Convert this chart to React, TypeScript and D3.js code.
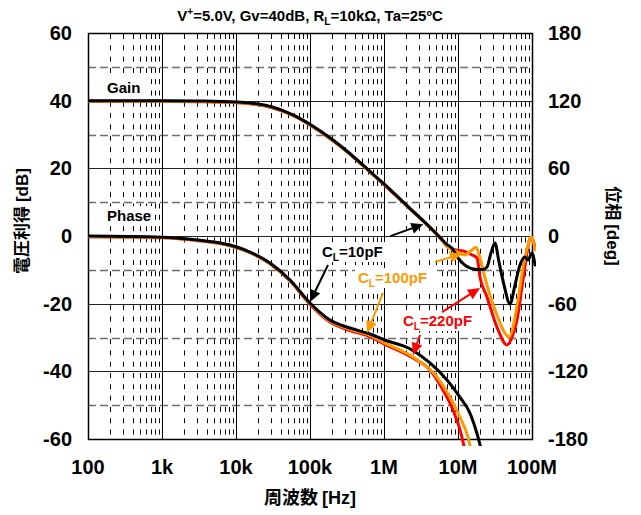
import React from "react";
import * as d3 from "d3";

const W = 641;
const H = 515;
const PLOT = { left: 88, right: 532, top: 33, bottom: 439 };

const freqTicks = [1e2, 1e3, 1e4, 1e5, 1e6, 1e7, 1e8];
const freqTickLabels = ["100", "1k", "10k", "100k", "1M", "10M", "100M"];
const gainTicks = [60, 40, 20, 0, -20, -40, -60];
const gainTickLabels = ["60", "40", "20", "0", "-20", "-40", "-60"];
const gainMinorLines = [50, 30, 10, -10, -30, -50];
const phaseTicks = [180, 120, 60, 0, -60, -120, -180];
const phaseTickLabels = ["180", "120", "60", "0", "-60", "-120", "-180"];

// Gain [dB] vs frequency [Hz]
const gainFreq10p = [
  100, 1e3, 3e3, 1e4, 2e4, 3e4, 5e4, 7e4, 1e5, 2e5, 3e5, 5e5, 7e5, 1e6, 2e6, 3e6, 4e6, 5e6, 6e6, 7e6,
  8.3e6, 1.0e7, 1.24e7, 1.7e7, 2.18e7, 2.46e7, 2.79e7, 3.16e7, 3.58e7, 4.19e7, 5.04e7, 5.89e7, 6.88e7,
  8.04e7, 8.82e7, 1.0e8, 1.1e8,
];
const gain10p = [
  40, 40, 39.9, 39.6, 39.0, 38.2, 36.5, 35, 33, 28.5, 25.5, 21.3, 18.4, 15.4, 9.2, 5.6, 3.0, 0.9, -0.9, -2.4,
  -3.6, -6.5, -8.6, -9.8, -9.9, -9.2, -5.0, -2.1, -7.7, -14.5, -20.1, -14.5, -8.6,
  -6.2, -7.1, -5.0, -8.6,
];

const gainFreq100p = [
  100, 1e3, 3e3, 1e4, 2e4, 3e4, 5e4, 7e4, 1e5, 2e5, 3e5, 5e5, 7e5, 1e6, 2e6, 3e6, 4e6, 5e6, 6e6, 7.1e6,
  9.7e6, 1.24e7, 1.55e7, 1.75e7, 1.98e7, 2.46e7, 3.36e7, 4.31e7, 4.89e7, 5.54e7, 6.47e7, 7.8e7, 8.82e7,
  9.68e7, 1.03e8, 1.1e8,
];
const gain100p = [
  39.85, 39.85, 39.75, 39.45, 38.85, 38.05, 36.35, 34.85, 32.85, 28.35, 25.35, 21.15, 18.3, 15.3, 9.1, 5.6, 3.0, 0.9, -0.9, -3.1,
  -4.7, -5.6, -4.1, -3.3, -6.5, -14.5, -23.4, -28.7, -29.9, -26.9, -18.9, -7.7, -2.7,
  -0.3, -1.2, -4.1,
];

const gainFreq220p = [
  100, 1e3, 3e3, 1e4, 2e4, 3e4, 5e4, 7e4, 1e5, 2e5, 3e5, 5e5, 7e5, 1e6, 2e6, 3e6, 4e6, 5e6, 6e6, 7.1e6,
  9.1e6, 1.17e7, 1.55e7, 1.81e7, 1.98e7, 2.46e7, 3.36e7, 4.59e7, 5.37e7, 6.27e7, 7.55e7, 8.82e7, 9.4e7,
  1.03e8, 1.1e8,
];
const gain220p = [
  39.8, 39.8, 39.7, 39.4, 38.8, 38.0, 36.3, 34.8, 32.8, 28.3, 25.3, 21.1, 18.2, 15.2, 9.0, 5.5, 2.9, 0.8, -1.1, -3.0,
  -4.1, -4.4, -5.6, -6.5, -12.1, -18.0, -26.9, -32.2, -29.9, -24.8, -13.0, -3.3, -0.6,
  -1.2, -3.5,
];

// Phase [deg] vs frequency [Hz]
const phaseFreq10p = [
  100, 1e3, 3e3, 8.3e3, 1.55e4, 2.88e4, 5.37e4, 1e5, 1.86e5, 3.47e5, 6.47e5, 1.0e6, 2.24e6, 4.18e6,
  7.1e6, 1.06e7, 1.45e7, 1.86e7, 2.0e7,
];
const phase10p = [
  0, -1, -3.5, -8, -14.2, -24, -39, -59.4, -74.5, -81.6, -86.9, -92, -100, -112.6,
  -127.7, -142.8, -157, -178.2, -186,
];

const phaseFreq100p = [
  100, 1e3, 3e3, 8.3e3, 1.55e4, 2.88e4, 5.37e4, 1e5, 1.86e5, 3.47e5, 6.47e5, 1.0e6, 2.47e6, 5.2e6,
  7.8e6, 1.06e7, 1.36e7, 1.45e7,
];
const phase100p = [
  -0.4, -1.4, -3.9, -8.4, -14.6, -24.4, -39.4, -60.0, -75.4, -82.8, -88.1, -94.5, -107.3, -125,
  -142.8, -160.5, -178.2, -186,
];

const phaseFreq220p = [
  100, 1e3, 3e3, 8.3e3, 1.55e4, 2.88e4, 5.37e4, 1e5, 1.86e5, 3.47e5, 6.47e5, 1.0e6, 2.47e6, 4.18e6,
  6.27e6, 8.55e6, 1.13e7, 1.2e7,
];
const phase220p = [
  -0.6, -1.6, -4.1, -8.6, -14.8, -24.7, -39.8, -60.6, -76.3, -83.8, -89.2, -95.6, -108.2, -118.8,
  -136.6, -154.3, -178.2, -186,
];

const COLORS = { c10: "#000000", c100: "#FF9900", c220: "#FF0000" };
const FONT = "'Liberation Sans', Arial, Helvetica, sans-serif";
const CJK = "'Noto Sans CJK JP', 'Noto Sans CJK SC', sans-serif";

const x = d3.scaleLog().domain([1e2, 1e8]).range([PLOT.left, PLOT.right]);
const yGain = d3.scaleLinear().domain([-60, 60]).range([PLOT.bottom, PLOT.top]);
const yPhase = d3.scaleLinear().domain([-180, 180]).range([PLOT.bottom, PLOT.top]);

function pathFor(freqs: number[], vals: number[], y: d3.ScaleLinear<number, number>) {
  const pts: [number, number][] = freqs.map((f, i) => [x(f), y(vals[i])]);
  return d3.line().curve(d3.curveMonotoneX)(pts) || "";
}

type Callout = {
  color: string;
  axis: "gain" | "phase";
  f: number;
  v: number;
  dx: number;
  dy: number;
};

// Callout arrows: tip sits on the trace, tail is offset in pixels
const callouts: Callout[] = [
  { color: COLORS.c10, axis: "gain", f: 3.4e6, v: 3.5, dx: -33, dy: 12 },
  { color: COLORS.c10, axis: "phase", f: 1e5, v: -58.5, dx: 18, dy: -37 },
  { color: COLORS.c100, axis: "gain", f: 1.13e7, v: -5.3, dx: -27, dy: 8 },
  { color: COLORS.c100, axis: "phase", f: 5.9e5, v: -86, dx: 16, dy: -40 },
  { color: COLORS.c220, axis: "gain", f: 1.98e7, v: -15.4, dx: -38, dy: 24 },
  { color: COLORS.c220, axis: "phase", f: 2.47e6, v: -105.5, dx: 7, dy: -20 },
];

// Text labels inside the plot, with white boxes that mask the grid
const plotLabels = [
  { key: "gain", x0: 107, y0: 93, w: 37, color: "#000", text: "Gain", sub: false },
  { key: "phase", x0: 107, y0: 221, w: 45, color: "#000", text: "Phase", sub: false },
  { key: "c10", x0: 322, y0: 257, w: 67, color: COLORS.c10, text: "10pF", sub: true },
  { key: "c100", x0: 358, y0: 283, w: 76, color: COLORS.c100, text: "100pF", sub: true },
  { key: "c220", x0: 403, y0: 326, w: 76, color: COLORS.c220, text: "220pF", sub: true },
];

function Arrow({ c }: { c: Callout }) {
  const tx = x(c.f);
  const ty = c.axis === "gain" ? yGain(c.v) : yPhase(c.v);
  const sx = tx + c.dx;
  const sy = ty + c.dy;
  const len = Math.hypot(tx - sx, ty - sy);
  const ux = (tx - sx) / len;
  const uy = (ty - sy) / len;
  const headL = 12;
  const headW = 5.5;
  const bx = tx - ux * headL;
  const by = ty - uy * headL;
  const px = -uy;
  const py = ux;
  const head = `M${tx},${ty} L${bx + px * headW},${by + py * headW} L${bx - px * headW},${by - py * headW} Z`;
  return (
    <g>
      <line x1={sx} y1={sy} x2={bx + ux * 2} y2={by + uy * 2} stroke={c.color} strokeWidth={2} />
      <path d={head} fill={c.color} />
    </g>
  );
}

export default function App() {
  const minorX: number[] = [];
  for (let d = 2; d < 8; d++) {
    for (let k = 2; k <= 9; k++) minorX.push(k * Math.pow(10, d));
  }

  const series = [
    { color: COLORS.c220, gf: gainFreq220p, g: gain220p, pf: phaseFreq220p, p: phase220p },
    { color: COLORS.c100, gf: gainFreq100p, g: gain100p, pf: phaseFreq100p, p: phase100p },
    { color: COLORS.c10, gf: gainFreq10p, g: gain10p, pf: phaseFreq10p, p: phase10p },
  ];

  return (
    <svg
      width={W}
      height={H}
      viewBox={`0 0 ${W} ${H}`}
      style={{ position: "absolute", left: 0, top: 0, background: "#fff" }}
    >
      <defs>
        <clipPath id="plotClip">
          <rect x={PLOT.left} y={PLOT.top} width={PLOT.right - PLOT.left + 4} height={PLOT.bottom - PLOT.top + 7} />
        </clipPath>
      </defs>
      <rect x={0} y={0} width={W} height={H} fill="#fff" />

      {/* minor frequency grid */}
      {minorX.map((f) => (
        <line
          key={`mx${f}`}
          x1={Math.round(x(f)) + 0.5}
          x2={Math.round(x(f)) + 0.5}
          y1={PLOT.top + 1}
          y2={PLOT.bottom}
          stroke="#000"
          strokeWidth={1}
          strokeDasharray="5,6.3"
        />
      ))}
      {/* dashed gain grid */}
      {gainMinorLines.map((g) => (
        <line
          key={`hy${g}`}
          x1={PLOT.left}
          x2={PLOT.right}
          y1={Math.round(yGain(g)) + 0.5}
          y2={Math.round(yGain(g)) + 0.5}
          stroke="#6e6e6e"
          strokeWidth={1.4}
          strokeDasharray="8,4"
        />
      ))}
      {/* major grid */}
      {gainTicks.map((g) => (
        <line
          key={`gy${g}`}
          x1={PLOT.left}
          x2={PLOT.right}
          y1={Math.round(yGain(g)) + 0.5}
          y2={Math.round(yGain(g)) + 0.5}
          stroke="#222"
          strokeWidth={1}
        />
      ))}
      {freqTicks.map((f) => (
        <line
          key={`gx${f}`}
          x1={Math.round(x(f)) + 0.5}
          x2={Math.round(x(f)) + 0.5}
          y1={PLOT.top}
          y2={PLOT.bottom}
          stroke="#000"
          strokeWidth={1}
        />
      ))}

      {/* label backgrounds */}
      {plotLabels.map((l) => (
        <rect key={`bg${l.key}`} x={l.x0 - 3} y={l.y0 - 15} width={l.w + 6} height={20} fill="#fff" />
      ))}

      <rect
        x={PLOT.left + 0.5}
        y={PLOT.top + 0.5}
        width={PLOT.right - PLOT.left}
        height={PLOT.bottom - PLOT.top}
        fill="none"
        stroke="#000"
        strokeWidth={1.5}
      />

      {/* traces */}
      <g clipPath="url(#plotClip)" fill="none" strokeWidth={3} strokeLinejoin="round" strokeLinecap="round">
        {series.map((s) => (
          <g key={s.color}>
            <path d={pathFor(s.gf, s.g, yGain)} stroke={s.color} />
            <path d={pathFor(s.pf, s.p, yPhase)} stroke={s.color} />
          </g>
        ))}
      </g>

      {/* callouts */}
      {callouts.map((c, i) => (
        <Arrow key={i} c={c} />
      ))}
      {plotLabels.map((l) =>
        l.sub ? (
          <text key={l.key} x={l.x0} y={l.y0} fill={l.color} fontFamily={FONT} fontWeight="bold" fontSize={15}>
            C
            <tspan fontSize={10} dy={4}>L</tspan>
            <tspan dy={-4}>={l.text}</tspan>
          </text>
        ) : (
          <text key={l.key} x={l.x0} y={l.y0} fill={l.color} fontFamily={FONT} fontWeight="bold" fontSize={15}>
            {l.text}
          </text>
        )
      )}

      {/* axes labels */}
      {gainTicks.map((g, i) => (
        <text
          key={`gl${g}`}
          x={72}
          y={yGain(g) + 7}
          textAnchor="end"
          fontFamily={FONT}
          fontWeight="bold"
          fontSize={20}
        >
          {gainTickLabels[i]}
        </text>
      ))}
      {phaseTicks.map((p, i) => (
        <text
          key={`pl${p}`}
          x={548}
          y={yPhase(p) + 7}
          textAnchor="start"
          fontFamily={FONT}
          fontWeight="bold"
          fontSize={20}
        >
          {phaseTickLabels[i]}
        </text>
      ))}
      {freqTicks.map((f, i) => (
        <text
          key={`fl${f}`}
          x={x(f)}
          y={474}
          textAnchor="middle"
          fontFamily={FONT}
          fontWeight="bold"
          fontSize={20}
        >
          {freqTickLabels[i]}
        </text>
      ))}

      <text x={310} y={504} textAnchor="middle" fontFamily={CJK} fontWeight="bold" fontSize={18}>
        周波数 <tspan fontFamily={FONT}>[Hz]</tspan>
      </text>
      <text
        transform="translate(28,221) rotate(-90)"
        textAnchor="middle"
        fontFamily={CJK}
        fontWeight="bold"
        fontSize={17}
      >
        電圧利得 <tspan fontFamily={FONT}>[dB]</tspan>
      </text>
      <text
        transform="translate(607,226) rotate(90)"
        textAnchor="middle"
        fontFamily={CJK}
        fontWeight="bold"
        fontSize={17}
      >
        位相 <tspan fontFamily={FONT}>[deg]</tspan>
      </text>

      <text x={310} y={21} textAnchor="middle" fontFamily={FONT} fontWeight="bold" fontSize={15}>
        V<tspan fontSize={10} dy={-6}>+</tspan>
        <tspan dy={6}>=5.0V, Gv=40dB, R</tspan>
        <tspan fontSize={10} dy={4}>L</tspan>
        <tspan dy={-4}>=10kΩ, Ta=25ºC</tspan>
      </text>
    </svg>
  );
}
